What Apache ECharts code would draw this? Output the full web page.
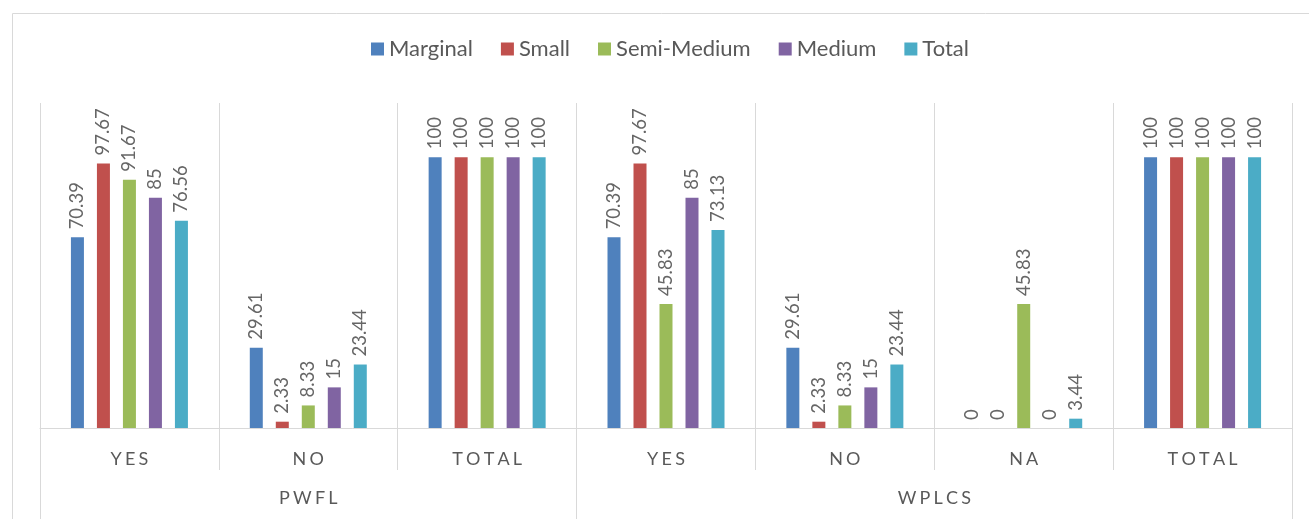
<!DOCTYPE html>
<html>
<head>
<meta charset="utf-8">
<script src="https://cdn.jsdelivr.net/npm/echarts@6/dist/echarts.min.js"></script>
<style>
html,body{margin:0;padding:0;background:#fff;}
#c{width:1309px;height:519px;}
</style>
</head>
<body>
<div id="c"></div>
<script>
const categories = ['YES', 'NO', 'TOTAL', 'YES', 'NO', 'NA', 'TOTAL'];
const groups = ['PWFL', 'WPLCS'];
const groupSizes = [3, 4];
const seriesNames = ['Marginal', 'Small', 'Semi-Medium', 'Medium', 'Total'];
const marginal   = [70.39, 29.61, 100, 70.39, 29.61, 0, 100];
const small      = [97.67, 2.33, 100, 97.67, 2.33, 0, 100];
const semiMedium = [91.67, 8.33, 100, 45.83, 8.33, 45.83, 100];
const medium     = [85, 15, 100, 85, 15, 0, 100];
const total      = [76.56, 23.44, 100, 73.13, 23.44, 3.44, 100];
const seriesData = [marginal, small, semiMedium, medium, total];
const colors = ['#4F81BD', '#C0504D', '#9BBB59', '#8064A2', '#4BACC6'];

// group boundaries and centers on the group axis (units = categories)
const groupBounds = [0];
groupSizes.forEach(s => groupBounds.push(groupBounds[groupBounds.length - 1] + s));
const groupCenters = groupSizes.map((s, i) => groupBounds[i] + s / 2);

const FONT = 'Lato';
const AXIS_COLOR = '#595959';
// letter-spaced axis text (each glyph drawn as its own rich-text run with side padding)
const spaced = s => String(s).split('').map(ch => '{s|' + ch + '}').join('');
const spacedRich = {s: {fontSize: 18, color: AXIS_COLOR, fontFamily: FONT, padding: [0, 1.6, 0, 1.6]}};

const chart = echarts.init(document.getElementById('c'), null, {renderer: 'canvas'});
chart.setOption({
  animation: false,
  color: colors,
  textStyle: {fontFamily: FONT},
  graphic: [{
    type: 'rect', left: 10, top: 11, silent: true,
    shape: {width: 1400, height: 600},
    style: {fill: 'none', stroke: '#D9D9D9', lineWidth: 1}
  }],
  legend: {
    top: 33, left: 366,
    itemWidth: 13, itemHeight: 13, itemGap: 28,
    icon: 'rect',
    textStyle: {fontSize: 22, color: AXIS_COLOR, fontFamily: FONT, padding: [0, 0, 0, 0]},
    data: seriesNames
  },
  grid: {left: 40, right: 17, top: 103, bottom: 91, containLabel: false},
  xAxis: [{
    type: 'category',
    data: categories,
    position: 'bottom',
    axisLine: {show: true, lineStyle: {color: '#D9D9D9', width: 1}},
    axisTick: {show: true, length: 42, interval: 0, lineStyle: {color: '#D9D9D9'}},
    splitLine: {show: true, interval: 0, lineStyle: {color: '#D9D9D9', width: 1}},
    axisLabel: {
      fontSize: 18, color: AXIS_COLOR, margin: 22, fontFamily: FONT, interval: 0,
      formatter: v => spaced(v), rich: spacedRich
    }
  }, {
    type: 'value',
    position: 'bottom',
    offset: 42,
    min: 0, max: groupBounds[groupBounds.length - 1],
    axisLine: {show: false},
    splitLine: {show: false},
    axisTick: {show: true, length: 50, customValues: groupBounds, lineStyle: {color: '#D9D9D9'}},
    axisLabel: {
      show: true, fontSize: 18, color: AXIS_COLOR, margin: 19, fontFamily: FONT,
      customValues: groupCenters,
      formatter: v => { const i = groupCenters.indexOf(v); return i >= 0 ? spaced(groups[i]) : ''; },
      rich: spacedRich
    }
  }],
  yAxis: {
    type: 'value', min: 0, max: 120, show: false,
    splitLine: {show: false}
  },
  series: seriesNames.map((name, i) => ({
    name: name,
    type: 'bar',
    xAxisIndex: 0,
    data: seriesData[i],
    barWidth: 13,
    barGap: '100%',
    itemStyle: {color: colors[i]},
    label: {
      show: true, position: 'top', rotate: 90, align: 'left', verticalAlign: 'middle',
      distance: 8, fontSize: 18.5, color: '#666666', fontFamily: FONT
    }
  }))
});
</script>
</body>
</html>
